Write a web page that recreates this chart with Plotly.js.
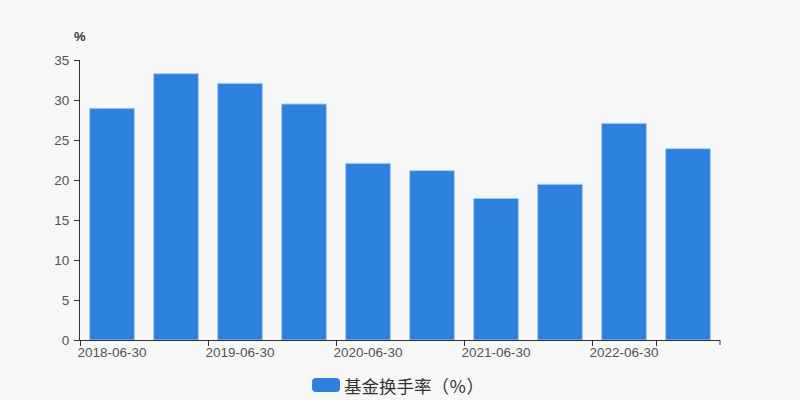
<!DOCTYPE html>
<html>
<head>
<meta charset="utf-8">
<script src="https://cdn.plot.ly/plotly-3.0.1.min.js"></script>
<style>html,body{margin:0;padding:0;background:#f7f7f7;}#chart{width:800px;height:400px;}</style>
</head>
<body>
<div id="chart"></div>
<script>
var categories = ["2018-06-30","2018-12-31","2019-06-30","2019-12-31","2020-06-30","2020-12-31","2021-06-30","2021-12-31","2022-06-30","2022-12-31"];
var turnover = [28.96, 33.29, 32.08, 29.5, 22.08, 21.17, 17.7, 19.46, 27.08, 23.92];
var tickLabels = ["2018-06-30","2019-06-30","2020-06-30","2021-06-30","2022-06-30"];
var seriesName = "基金换手率（％）";
var yUnit = "%";

var fontFamily = "'Liberation Sans', 'Noto Sans CJK SC', sans-serif";
var cjkFont = "'Noto Sans CJK SC', sans-serif";

var trace = {
  type: "bar",
  x: categories,
  y: turnover,
  name: seriesName,
  width: 0.7,
  marker: {color: "#2d80de", line: {color: "#a9cbf2", width: 1}},
  hoverinfo: "x+y",
  showlegend: false
};

var layout = {
  width: 800, height: 400,
  paper_bgcolor: "#f7f7f7",
  plot_bgcolor: "#f7f7f7",
  margin: {l: 80, r: 80, t: 60, b: 60},
  font: {family: fontFamily, size: 13.5, color: "#555"},
  xaxis: {
    type: "category",
    tickmode: "array",
    tickvals: tickLabels,
    ticktext: tickLabels,
    tickangle: 0,
    tickson: "boundaries",
    ticks: "outside", ticklen: 5, tickcolor: "#333",
    showline: true, linecolor: "#333", linewidth: 1,
    showgrid: false, zeroline: false,
    tickfont: {size: 13.5, color: "#555"},
    range: [-0.5, 9.5]
  },
  yaxis: {
    range: [0, 35], dtick: 5,
    ticks: "outside", ticklen: 5, tickcolor: "#333",
    showline: true, linecolor: "#333", linewidth: 1,
    showgrid: false, zeroline: false,
    tickfont: {size: 13.5, color: "#555"},
    ticklabelstandoff: 2
  },
  showlegend: false,
  annotations: [
    {text: yUnit, xref: "paper", yref: "paper", x: 0, y: 1, yshift: 24, xshift: 0,
     xanchor: "center", yanchor: "middle", showarrow: false,
     font: {size: 13, color: "#333", family: fontFamily, weight: "bold"}},
    {text: seriesName, xref: "paper", yref: "paper", x: 0, y: 0, yshift: -45, xshift: 262,
     xanchor: "left", yanchor: "middle", showarrow: false,
     font: {size: 17.5, color: "#333", family: cjkFont}}
  ],
  shapes: [
    {type: "path", xref: "paper", yref: "paper", xsizemode: "pixel", ysizemode: "pixel",
     xanchor: 0.5, yanchor: 0,
     path: "M -84,-38 L -64,-38 Q -60,-38 -60,-42 L -60,-48 Q -60,-52 -64,-52 L -84,-52 Q -88,-52 -88,-48 L -88,-42 Q -88,-38 -84,-38 Z",
     fillcolor: "#2d80de", line: {width: 0}},
    {type: "line", xref: "paper", yref: "paper", ysizemode: "pixel", yanchor: 0,
     x0: 1, x1: 1, y0: 0, y1: -5, line: {color: "#333", width: 1}}
  ]
};

Plotly.newPlot("chart", [trace], layout, {displayModeBar: false, staticPlot: true});
</script>
</body>
</html>
